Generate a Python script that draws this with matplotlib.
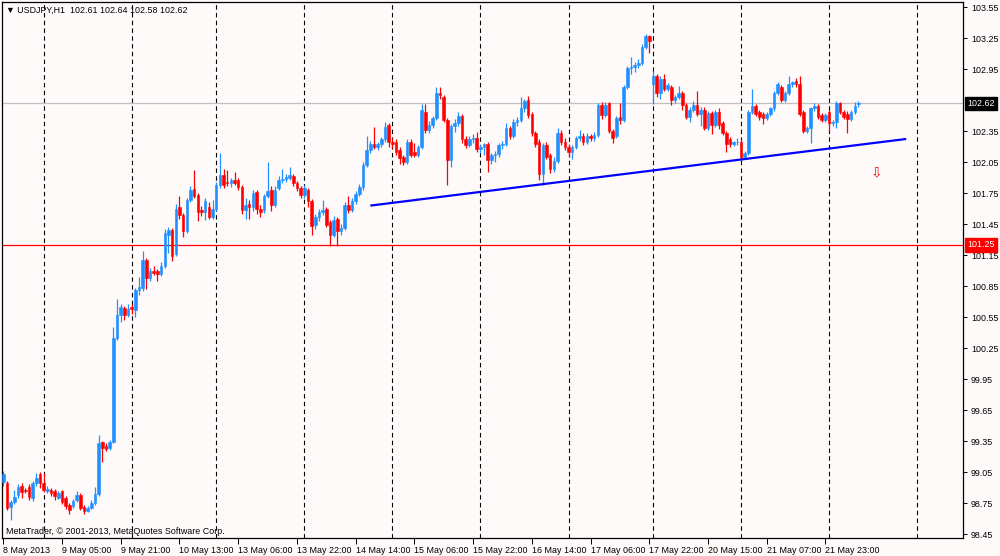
import matplotlib
matplotlib.use('Agg')
import matplotlib.pyplot as plt
from matplotlib.transforms import blended_transform_factory

plt.rcParams['font.family'] = ['Liberation Sans', 'DejaVu Sans']

# ---------------- data (USDJPY, H1) ----------------
opens = [
    98.95, 98.94, 98.71, 98.76, 98.83, 98.92, 98.88, 98.91, 98.80, 98.94,
    99.03, 98.94, 98.87, 98.88, 98.87, 98.80, 98.87, 98.80, 98.73, 98.72,
    98.78, 98.83, 98.71, 98.67, 98.70, 98.75, 98.84, 99.34, 99.30, 99.28,
    99.34, 100.35, 100.57, 100.64, 100.57, 100.65, 100.62, 100.81, 100.83, 101.10,
    100.93, 101.00, 101.00, 100.97, 101.05, 101.35, 101.39, 101.16, 101.62, 101.54,
    101.38, 101.68, 101.79, 101.73, 101.59, 101.57, 101.62, 101.52, 101.60, 101.83,
    101.93, 101.86, 101.85, 101.88, 101.88, 101.81, 101.59, 101.65, 101.62, 101.76,
    101.60, 101.59, 101.72, 101.78, 101.64, 101.80, 101.88, 101.89, 101.90, 101.92,
    101.85, 101.80, 101.73, 101.78, 101.67, 101.44, 101.52, 101.57, 101.60, 101.47,
    101.35, 101.50, 101.38, 101.41, 101.64, 101.59, 101.67, 101.74, 101.81, 102.02,
    102.17, 102.23, 102.20, 102.23, 102.27, 102.41, 102.25, 102.25, 102.17, 102.10,
    102.05, 102.25, 102.15, 102.12, 102.20, 102.54, 102.36, 102.41, 102.48, 102.72,
    102.68, 102.46, 102.07, 102.40, 102.43, 102.50, 102.27, 102.22, 102.27, 102.28,
    102.18, 102.20, 102.23, 102.07, 102.12, 102.13, 102.22, 102.23, 102.38, 102.30,
    102.44, 102.46, 102.57, 102.65, 102.52, 102.33, 102.25, 101.94, 102.22, 102.12,
    101.98, 102.06, 102.33, 102.25, 102.20, 102.15, 102.20, 102.28, 102.30, 102.25,
    102.30, 102.28, 102.31, 102.60, 102.51, 102.62, 102.35, 102.30, 102.49, 102.46,
    102.78, 102.96, 102.97, 102.99, 103.01, 103.17, 103.27, 102.81, 102.88, 102.72,
    102.86, 102.76, 102.78, 102.65, 102.68, 102.72, 102.60, 102.49, 102.56, 102.60,
    102.52, 102.56, 102.38, 102.53, 102.41, 102.54, 102.43, 102.33, 102.27, 102.23,
    102.25, 102.25, 102.10, 102.14, 102.54, 102.59, 102.54, 102.52, 102.48, 102.52,
    102.57, 102.72, 102.78, 102.65, 102.72, 102.81, 102.84, 102.81, 102.54, 102.35,
    102.38, 102.57, 102.59, 102.51, 102.46, 102.54, 102.43, 102.44, 102.62, 102.54,
    102.52, 102.47, 102.54, 102.61,
]
highs = [
    99.06, 98.96, 98.78, 98.88, 98.93, 98.94, 98.90, 98.93, 98.96, 99.04,
    99.05, 99.04, 98.92, 98.90, 98.89, 98.87, 98.88, 98.82, 98.75, 98.79,
    98.87, 98.85, 98.73, 98.72, 98.78, 98.91, 99.41, 99.35, 99.33, 99.36,
    100.45, 100.73, 100.68, 100.66, 100.68, 100.68, 100.83, 100.94, 101.19, 101.12,
    101.03, 101.05, 101.02, 101.08, 101.40, 101.42, 101.41, 101.65, 101.72, 101.56,
    101.70, 101.82, 101.97, 101.75, 101.63, 101.70, 101.66, 101.68, 101.86, 102.14,
    101.98, 101.97, 101.90, 101.96, 101.90, 101.83, 101.70, 101.68, 101.78, 101.78,
    101.64, 101.74, 102.05, 101.82, 101.82, 101.92, 101.98, 101.94, 102.00, 101.94,
    101.87, 101.82, 101.83, 101.80, 101.69, 101.55, 101.60, 101.68, 101.62, 101.49,
    101.53, 101.52, 101.45, 101.66, 101.72, 101.70, 101.77, 101.84, 102.05, 102.30,
    102.26, 102.39, 102.25, 102.29, 102.44, 102.43, 102.28, 102.27, 102.20, 102.12,
    102.27, 102.27, 102.24, 102.22, 102.61, 102.61, 102.45, 102.50, 102.78, 102.78,
    102.70, 102.48, 102.42, 102.47, 102.54, 102.52, 102.30, 102.30, 102.32, 102.34,
    102.23, 102.24, 102.25, 102.14, 102.16, 102.24, 102.26, 102.43, 102.40, 102.47,
    102.49, 102.68, 102.66, 102.69, 102.54, 102.35, 102.27, 102.24, 102.25, 102.14,
    102.10, 102.38, 102.36, 102.28, 102.23, 102.22, 102.30, 102.36, 102.33, 102.33,
    102.32, 102.34, 102.62, 102.63, 102.63, 102.63, 102.37, 102.50, 102.62, 102.80,
    102.98, 103.07, 103.02, 103.05, 103.19, 103.29, 103.28, 102.93, 102.90, 102.88,
    102.90, 102.82, 102.80, 102.70, 102.79, 102.74, 102.62, 102.58, 102.64, 102.74,
    102.58, 102.58, 102.55, 102.55, 102.56, 102.57, 102.45, 102.35, 102.29, 102.26,
    102.28, 102.27, 102.16, 102.56, 102.76, 102.61, 102.56, 102.54, 102.54, 102.58,
    102.74, 102.83, 102.80, 102.74, 102.88, 102.84, 102.87, 102.88, 102.56, 102.40,
    102.58, 102.62, 102.61, 102.53, 102.53, 102.56, 102.46, 102.64, 102.63, 102.56,
    102.55, 102.56, 102.63, 102.64,
]
lows = [
    98.92, 98.68, 98.59, 98.74, 98.80, 98.80, 98.85, 98.78, 98.77, 98.92,
    98.90, 98.86, 98.85, 98.82, 98.78, 98.79, 98.74, 98.69, 98.64, 98.70,
    98.76, 98.68, 98.64, 98.66, 98.69, 98.73, 98.82, 99.15, 99.25, 99.26,
    99.33, 100.33, 100.50, 100.52, 100.55, 100.58, 100.55, 100.76, 100.80, 100.82,
    100.90, 100.96, 100.90, 100.95, 101.03, 101.17, 101.09, 101.14, 101.50, 101.33,
    101.36, 101.66, 101.70, 101.48, 101.53, 101.49, 101.50, 101.50, 101.58, 101.80,
    101.80, 101.82, 101.81, 101.83, 101.78, 101.55, 101.50, 101.50, 101.58, 101.55,
    101.52, 101.56, 101.70, 101.58, 101.62, 101.78, 101.85, 101.86, 101.88, 101.82,
    101.77, 101.70, 101.70, 101.62, 101.35, 101.40, 101.48, 101.54, 101.42, 101.24,
    101.33, 101.24, 101.35, 101.39, 101.56, 101.57, 101.65, 101.72, 101.78, 102.00,
    102.14, 102.18, 102.17, 102.20, 102.25, 102.20, 102.19, 102.12, 102.03, 102.02,
    102.03, 102.10, 102.10, 102.10, 102.18, 102.33, 102.33, 102.38, 102.46, 102.66,
    102.44, 101.83, 102.00, 102.34, 102.40, 102.24, 102.19, 102.20, 102.24, 102.15,
    102.14, 102.12, 101.96, 102.03, 102.05, 102.10, 102.18, 102.21, 102.27, 102.28,
    102.40, 102.44, 102.54, 102.48, 102.30, 102.20, 101.88, 101.83, 102.08, 101.95,
    101.96, 102.04, 102.22, 102.17, 102.10, 102.08, 102.18, 102.26, 102.22, 102.23,
    102.26, 102.26, 102.29, 102.47, 102.49, 102.33, 102.24, 102.28, 102.42, 102.44,
    102.76, 102.90, 102.92, 102.96, 102.99, 103.15, 103.11, 102.61, 102.68, 102.66,
    102.74, 102.74, 102.60, 102.62, 102.66, 102.56, 102.47, 102.44, 102.54, 102.50,
    102.40, 102.36, 102.36, 102.32, 102.39, 102.37, 102.31, 102.15, 102.20, 102.21,
    102.22, 102.07, 102.08, 102.12, 102.52, 102.50, 102.46, 102.42, 102.46, 102.50,
    102.55, 102.70, 102.63, 102.63, 102.70, 102.78, 102.78, 102.50, 102.33, 102.33,
    102.24, 102.55, 102.47, 102.44, 102.44, 102.35, 102.40, 102.38, 102.52, 102.47,
    102.33, 102.45, 102.52, 102.58,
]
closes = [
    99.03, 98.70, 98.76, 98.81, 98.91, 98.86, 98.87, 98.81, 98.94, 98.99,
    98.94, 98.88, 98.89, 98.85, 98.82, 98.85, 98.76, 98.72, 98.68, 98.77,
    98.83, 98.70, 98.67, 98.70, 98.75, 98.84, 99.33, 99.28, 99.27, 99.34,
    100.35, 100.57, 100.65, 100.57, 100.63, 100.63, 100.81, 100.84, 101.10, 100.93,
    101.00, 100.98, 100.97, 101.05, 101.36, 101.39, 101.14, 101.60, 101.54, 101.38,
    101.68, 101.78, 101.72, 101.57, 101.57, 101.67, 101.52, 101.60, 101.83, 101.93,
    101.83, 101.85, 101.88, 101.85, 101.81, 101.59, 101.64, 101.62, 101.75, 101.60,
    101.57, 101.72, 101.77, 101.64, 101.78, 101.88, 101.89, 101.91, 101.93, 101.85,
    101.80, 101.73, 101.80, 101.67, 101.43, 101.52, 101.57, 101.59, 101.44, 101.35,
    101.49, 101.38, 101.41, 101.64, 101.59, 101.67, 101.74, 101.81, 102.02, 102.17,
    102.23, 102.20, 102.23, 102.27, 102.39, 102.25, 102.23, 102.15, 102.09, 102.05,
    102.25, 102.12, 102.12, 102.20, 102.56, 102.36, 102.41, 102.48, 102.72, 102.70,
    102.46, 102.07, 102.40, 102.43, 102.50, 102.27, 102.22, 102.27, 102.28, 102.18,
    102.20, 102.23, 102.07, 102.12, 102.13, 102.22, 102.23, 102.38, 102.30, 102.44,
    102.46, 102.57, 102.64, 102.51, 102.33, 102.23, 101.94, 102.22, 102.10, 101.98,
    102.06, 102.33, 102.25, 102.20, 102.15, 102.20, 102.28, 102.30, 102.25, 102.30,
    102.28, 102.31, 102.60, 102.51, 102.60, 102.35, 102.28, 102.48, 102.46, 102.78,
    102.96, 102.97, 102.99, 103.01, 103.17, 103.27, 103.22, 102.88, 102.72, 102.86,
    102.76, 102.80, 102.65, 102.68, 102.72, 102.60, 102.49, 102.56, 102.60, 102.52,
    102.56, 102.38, 102.53, 102.41, 102.54, 102.41, 102.33, 102.23, 102.23, 102.25,
    102.25, 102.10, 102.14, 102.54, 102.59, 102.52, 102.49, 102.48, 102.52, 102.57,
    102.72, 102.81, 102.65, 102.72, 102.81, 102.83, 102.81, 102.52, 102.35, 102.38,
    102.57, 102.59, 102.49, 102.46, 102.51, 102.43, 102.44, 102.62, 102.54, 102.49,
    102.47, 102.54, 102.59, 102.62,
]

time_labels = ['8 May 2013', '9 May 05:00', '9 May 21:00', '10 May 13:00',
               '13 May 06:00', '13 May 22:00', '14 May 14:00', '15 May 06:00',
               '15 May 22:00', '16 May 14:00', '17 May 06:00', '17 May 22:00',
               '20 May 15:00', '21 May 07:00', '21 May 23:00']
time_label_bars = [0, 16, 32, 48, 64, 80, 96, 112, 128, 144, 160, 176, 192, 208, 224]
grid_bars = [11, 35, 58, 82, 106, 130, 154, 177, 201, 225, 249]
price_ticks = [98.45, 98.75, 99.05, 99.35, 99.65, 99.95, 100.25, 100.55, 100.85,
               101.15, 101.45, 101.75, 102.05, 102.35, 102.95, 103.25, 103.55]
bid_price = 102.62
hline_price = 101.25
trend_bars = [100, 246]
trend_prices = [101.63, 102.275]
arrow_bar = 238
arrow_price = 101.95
title_text = '\u25bc USDJPY,H1  102.61 102.64 102.58 102.62'
copyright_text = 'MetaTrader, \u00a9 2001-2013, MetaQuotes Software Corp.'

# ---------------- drawing ----------------
W, H = 1000, 556
BG = '#fffafa'
fig = plt.figure(figsize=(W / 100, H / 100), dpi=100, facecolor=BG)
left_px, right_px, top_px, bot_px = 2, 962.7, 2, 538
ax = fig.add_axes([left_px / W, 1 - bot_px / H, (right_px - left_px) / W, (bot_px - top_px) / H])
ax.set_facecolor(BG)
ax.set_xlim(-0.354, 261.4)
ax.set_ylim(98.412, 103.601)

for s in ax.spines.values():
    s.set_color('black')
    s.set_linewidth(0.9)

# grid (vertical dashed)
for g in grid_bars:
    ax.axvline(g, color='black', lw=0.8, ls=(0, (4, 3)), zorder=1)

# horizontal lines
ax.axhline(bid_price, color='#c0c0c0', lw=0.9, zorder=1.5)
ax.axhline(hline_price, color='#ff0000', lw=0.9, zorder=1.5)

# candles
BULL, BEAR = '#1e90ff', '#ff0000'
idx = list(range(len(closes)))
cols = [BULL if c >= o else BEAR for o, c in zip(opens, closes)]
ax.vlines(idx, lows, highs, colors=cols, lw=0.9, zorder=2)
ax.bar(idx, [abs(c - o) for o, c in zip(opens, closes)],
       bottom=[min(o, c) for o, c in zip(opens, closes)],
       width=0.7, color=cols, edgecolor=cols, linewidth=0.4, zorder=3)

# trend line
ax.plot(trend_bars, trend_prices, color='#0000ff', lw=1.6, zorder=4, solid_capstyle='butt')

# arrow
ax.text(arrow_bar, arrow_price, '\u21e9', color='#ff0000', fontsize=10,
        ha='center', va='center', family=['DejaVu Sans'], zorder=5)

# y axis on right
ax.yaxis.tick_right()
ax.set_yticks(price_ticks)
ax.set_yticklabels(['%.2f' % p for p in price_ticks])
ax.tick_params(axis='y', direction='out', length=3, width=0.7, labelsize=6.4,
               pad=3, colors='black')

# x axis
ax.set_xticks(time_label_bars)
ax.set_xticklabels(time_labels, ha='left')
ax.tick_params(axis='x', direction='out', length=4, width=0.7, labelsize=6.4,
               pad=2, colors='black')

# price boxes on the right axis
btr = blended_transform_factory(ax.transAxes, ax.transData)
for price, fc in [(bid_price, 'black'), (hline_price, '#ff0000')]:
    ax.annotate('%.2f' % price, xy=(1, price), xycoords=btr, xytext=(5, 0),
                textcoords='offset pixels', ha='left', va='center', color='white',
                fontsize=6.4, annotation_clip=False, zorder=10,
                bbox=dict(boxstyle='square,pad=0.25', fc=fc, ec=fc))

# title and copyright
fig.text(6 / W, 1 - 10 / H, title_text, fontsize=6.4, ha='left', va='center', color='black')
fig.text(6 / W, 1 - 532 / H, copyright_text, fontsize=6.4, ha='left', va='center', color='black')

fig.savefig('out.png', dpi=100, facecolor=BG)
